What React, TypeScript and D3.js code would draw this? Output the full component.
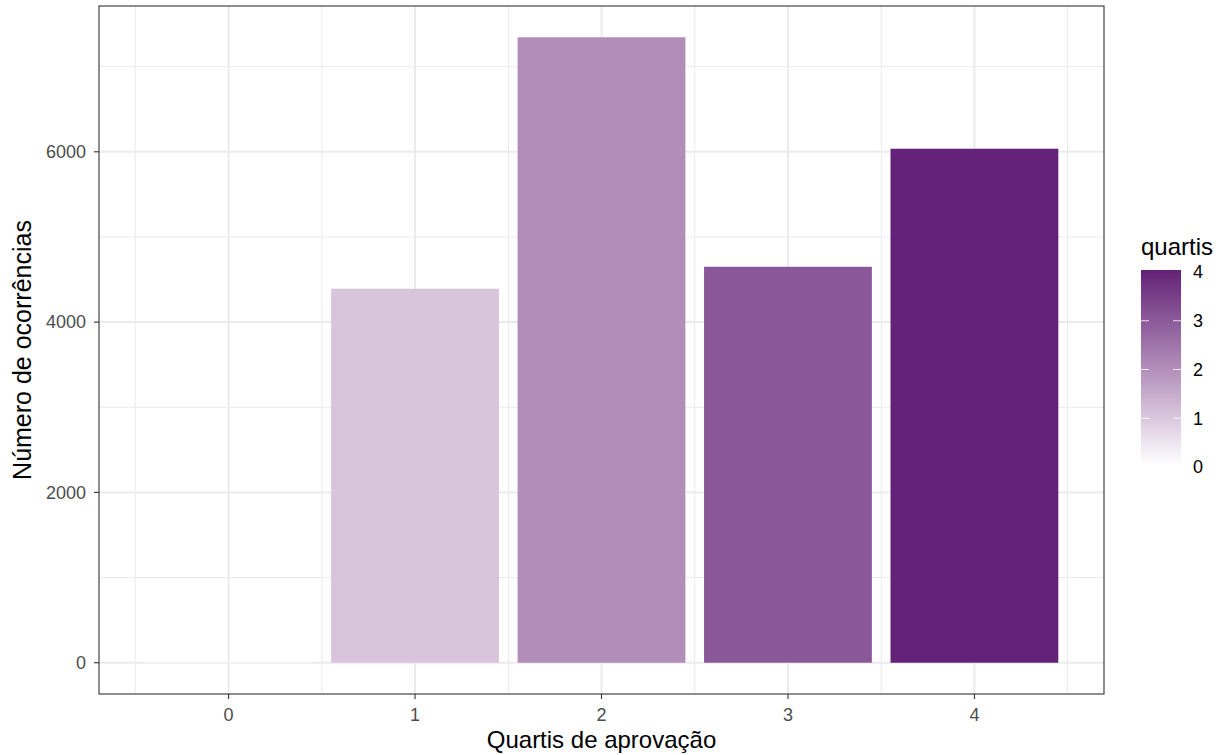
import React from "react";
import * as d3 from "d3";

const categories = [0, 1, 2, 3, 4];
const counts = [6, 4392, 7345, 4650, 6036];
const yTicks = [0, 2000, 4000, 6000];
const yMinor = [1000, 3000, 5000, 7000];
const legendTicks = [0, 1, 2, 3, 4];

const W = 1224, H = 755;
const P = { l: 99, r: 1104, t: 6, b: 694 };

export default function App() {
  const xmin = -0.45, xmax = 4.45;
  const xpad = (xmax - xmin) * 0.05;
  const x = d3.scaleLinear().domain([xmin - xpad, xmax + xpad]).range([P.l, P.r]);
  const ymax = d3.max(counts)!;
  const ypad = ymax * 0.05;
  const y = d3.scaleLinear().domain([-ypad, ymax + ypad]).range([P.b, P.t]);
  const color = d3.scaleLinear<string>().domain([0, 4]).range(["#ffffff", "#632177"]).interpolate(d3.interpolateLab);
  const xMinor = d3.range(-0.5, 5, 1);
  const bw = 0.9;

  const lg = { x: 1141, w: 40, top: 270, bottom: 465 };
  const ly = d3.scaleLinear().domain([0, 4]).range([467, 272]);
  const stops = d3.range(0, 1.0001, 0.05);

  return (
    <svg width={W} height={H} style={{ display: "block", position: "absolute", left: 0, top: 0 }} fontFamily="'Liberation Sans', Arial, sans-serif">
      <rect x={0} y={0} width={W} height={H} fill="#fff" />
      <defs>
        <linearGradient id="lgd" x1="0" y1="1" x2="0" y2="0">
          {stops.map((s) => (
            <stop key={s} offset={s} stopColor={color(s * 4)} />
          ))}
        </linearGradient>
      </defs>
      {/* grid */}
      {yMinor.map((v) => (
        <line key={"ym" + v} x1={P.l} x2={P.r} y1={y(v)} y2={y(v)} stroke="#ebebeb" strokeWidth={1} />
      ))}
      {xMinor.map((v) => (
        <line key={"xm" + v} y1={P.t} y2={P.b} x1={x(v)} x2={x(v)} stroke="#ebebeb" strokeWidth={1} />
      ))}
      {yTicks.map((v) => (
        <line key={"y" + v} x1={P.l} x2={P.r} y1={y(v)} y2={y(v)} stroke="#ebebeb" strokeWidth={2} />
      ))}
      {categories.map((v) => (
        <line key={"x" + v} y1={P.t} y2={P.b} x1={x(v)} x2={x(v)} stroke="#ebebeb" strokeWidth={2} />
      ))}
      {/* bars */}
      {categories.map((c, i) => (
        <rect
          key={"b" + c}
          x={x(c - bw / 2)}
          width={x(c + bw / 2) - x(c - bw / 2)}
          y={y(counts[i])}
          height={y(0) - y(counts[i])}
          fill={color(c)}
        />
      ))}
      <rect x={P.l} y={P.t} width={P.r - P.l} height={P.b - P.t} fill="none" stroke="#333" strokeWidth={1.1} />
      {/* y axis */}
      {yTicks.map((v) => (
        <g key={"yt" + v}>
          <line x1={P.l - 5} x2={P.l} y1={y(v)} y2={y(v)} stroke="#333" strokeWidth={1.1} />
          <text x={P.l - 13} y={y(v)} dy="0.35em" textAnchor="end" fontSize={18} fill="#4d4d4d">{v}</text>
        </g>
      ))}
      {categories.map((v) => (
        <g key={"xt" + v}>
          <line y1={P.b} y2={P.b + 5} x1={x(v)} x2={x(v)} stroke="#333" strokeWidth={1.1} />
          <text x={x(v)} y={P.b + 27} textAnchor="middle" fontSize={18} fill="#4d4d4d">{v}</text>
        </g>
      ))}
      <text x={(P.l + P.r) / 2} y={748} textAnchor="middle" fontSize={24} fill="#000">Quartis de aprovação</text>
      <text transform={`translate(31,${(P.t + P.b) / 2}) rotate(-90)`} textAnchor="middle" fontSize={25} fill="#000">Número de ocorrências</text>
      {/* legend */}
      <text x={lg.x} y={255} fontSize={24} fill="#000">quartis</text>
      <rect x={lg.x} y={lg.top} width={lg.w} height={lg.bottom - lg.top} fill="url(#lgd)" />
      {legendTicks.map((v) => (
        <g key={"lt" + v}>
          {v > 0 && v < 4 && (
            <>
              <line x1={lg.x} x2={lg.x + 8} y1={ly(v)} y2={ly(v)} stroke="#fff" strokeWidth={1} opacity={0.8} />
              <line x1={lg.x + lg.w - 8} x2={lg.x + lg.w} y1={ly(v)} y2={ly(v)} stroke="#fff" strokeWidth={1} opacity={0.8} />
            </>
          )}
          <text x={1193} y={ly(v)} dy="0.35em" fontSize={18} fill="#000">{v}</text>
        </g>
      ))}
    </svg>
  );
}
